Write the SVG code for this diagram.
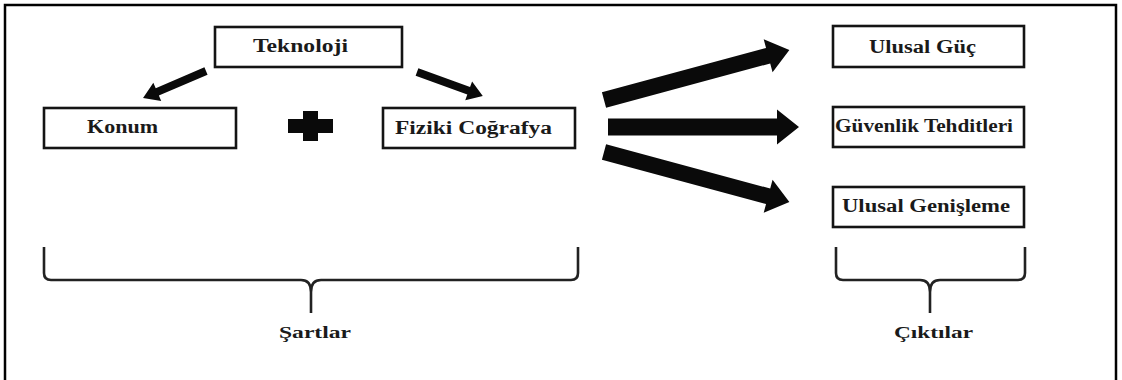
<svg xmlns="http://www.w3.org/2000/svg" width="1122" height="380" viewBox="0 0 1122 380">
<style>
.box{fill:#fff;stroke:#141414;stroke-width:2.6}
.t{font-family:"Liberation Serif","Times New Roman",serif;font-weight:bold;font-size:18px;fill:#1a1a1a}
.s{font-family:"Liberation Serif","Times New Roman",serif;font-weight:bold;font-size:17px;fill:#1a1a1a}
.brace{fill:none;stroke:#222;stroke-width:2.6;stroke-linejoin:round}
.arr{fill:#0a0a0a}
</style>
<rect x="0" y="0" width="1122" height="380" fill="#fff"/>
<path d="M5,390 V5 H1116 V390" fill="none" stroke="#000" stroke-width="2.5"/>
<g id="teknoloji"><rect class="box" x="215" y="27" width="187" height="40"/><text class="t" x="253" y="52" textLength="95" lengthAdjust="spacingAndGlyphs">Teknoloji</text></g>
<g id="konum"><rect class="box" x="44" y="108" width="192" height="40"/><text class="t" x="87" y="133" textLength="71" lengthAdjust="spacingAndGlyphs">Konum</text></g>
<g id="fiziki"><rect class="box" x="383" y="108" width="192" height="40"/><text class="t" x="395" y="134" textLength="157" lengthAdjust="spacingAndGlyphs">Fiziki Coğrafya</text></g>
<g id="plus"><path class="arr" d="M288,119 H303 V111 H318 V119 H333 V133 H318 V141 H303 V133 H288 Z"/></g>
<g id="ulusal-guc"><rect class="box" x="833" y="26" width="191" height="41"/><text class="t" x="869" y="53" textLength="107" lengthAdjust="spacingAndGlyphs">Ulusal Güç</text></g>
<g id="guvenlik"><rect class="box" x="833" y="107" width="191" height="40"/><text class="t" x="835" y="132" textLength="178" lengthAdjust="spacingAndGlyphs">Güvenlik Tehditleri</text></g>
<g id="genisleme"><rect class="box" x="833" y="187" width="191" height="40"/><text class="t" x="842" y="212" textLength="168" lengthAdjust="spacingAndGlyphs">Ulusal Genişleme</text></g>
<g id="connectors">
<path class="arr" transform="translate(206,71) rotate(156.8)" d="M0,-4 H53 V-10 L68.5,0 L53,10 V4 H0 Z"/>
<path class="arr" transform="translate(417,72) rotate(20)" d="M0,-4 H55 V-10 L70,0 L55,10 V4 H0 Z"/>
<path class="arr" transform="translate(604,100) rotate(-15.1)" d="M0,-8 H170 V-17 L192,0 L170,17 V8 H0 Z"/>
<path class="arr" transform="translate(608,127)" d="M0,-8.5 H169 V-17.5 L191,0 L169,17.5 V8.5 H0 Z"/>
<path class="arr" transform="translate(604,152) rotate(15.1)" d="M0,-8 H170 V-17 L192,0 L170,17 V8 H0 Z"/>
</g>
<g id="sartlar">
<path class="brace" d="M44,247 V273 Q44,280 51,280 H301 Q311,280 311,292 V313 M311,292 Q311,280 321,280 H571 Q578,280 578,273 V247"/>
<text class="s" x="279" y="338" textLength="72" lengthAdjust="spacingAndGlyphs">Şartlar</text>
</g>
<g id="ciktilar">
<path class="brace" d="M836,247 V273 Q836,280 843,280 H920 Q930,280 930,292 V313 M930,292 Q930,280 940,280 H1018 Q1025,280 1025,273 V247"/>
<text class="s" x="894" y="338" textLength="79" lengthAdjust="spacingAndGlyphs">Çıktılar</text>
</g>
</svg>
